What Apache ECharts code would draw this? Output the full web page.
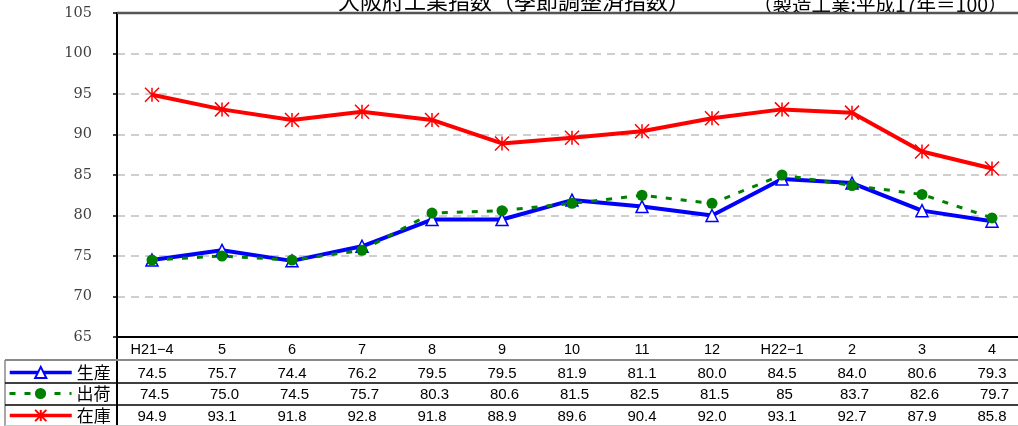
<!DOCTYPE html>
<html>
<head>
<meta charset="utf-8">
<script src="https://cdn.jsdelivr.net/npm/echarts@6/dist/echarts.min.js"></script>
<style>
  html, body { margin: 0; padding: 0; background: #fff; }
  #chart { width: 1018px; height: 426px; }
</style>
</head>
<body>
<div id="chart"></div>
<script>
// 月（表の見出し）
const months = ["H21−4", "5", "6", "7", "8", "9", "10", "11", "12", "H22−1", "2", "3", "4"];
// 各指数（表の表記そのまま）
const seisan = ["74.5", "75.7", "74.4", "76.2", "79.5", "79.5", "81.9", "81.1", "80.0", "84.5", "84.0", "80.6", "79.3"];
const shukka = ["74.5", "75.0", "74.5", "75.7", "80.3", "80.6", "81.5", "82.5", "81.5", "85", "83.7", "82.6", "79.7"];
const zaiko = ["94.9", "93.1", "91.8", "92.8", "91.8", "88.9", "89.6", "90.4", "92.0", "93.1", "92.7", "87.9", "85.8"];
const names = ["生産", "出荷", "在庫"];

const gridLeft = 117;
const gridTop = 13;
const gridBottomY = 337;
// 表の各行の中心
const rowY = [373, 394, 416];
const jpFont = "Noto Sans CJK JP";
const numFont = "Liberation Sans";
const asterisk = "path://M0,0L20,20M20,0L0,20M10,0L10,20";

let myChart = echarts.init(document.getElementById("chart"));

// 表の行（値）を下側のx軸として並べる
function rowAxis(values, offset, lineColor, lineWidth, margin, pad) {
  return {
    type: "category",
    data: months,
    position: "bottom",
    offset: offset,
    boundaryGap: true,
    axisLine: { show: true, lineStyle: { color: lineColor, width: lineWidth } },
    axisTick: { show: false },
    splitLine: { show: false },
    axisLabel: {
      interval: 0,
      margin: margin,
      fontSize: 15,
      fontFamily: numFont,
      color: "#000",
      padding: [0, 0, 0, pad],
      formatter: (v, i) => values[i]
    }
  };
}

let option = {
  animation: false,
  backgroundColor: "#fff",
  title: [
    {
      text: "大阪府工業指数（季節調整済指数）",
      left: 333,
      top: -15,
      textStyle: { fontFamily: jpFont, fontSize: 22, fontWeight: "normal", color: "#000" }
    },
    {
      text: "（製造工業:平成17年＝100）",
      left: 748,
      top: -10,
      textStyle: { fontFamily: jpFont, fontSize: 19.5, fontWeight: "normal", color: "#000" }
    }
  ],
  legend: names.map((name, i) => ({
    data: [name],
    left: 3,
    top: rowY[i] - 14,
    itemWidth: 62,
    itemHeight: 14,
    itemGap: 0,
    selectedMode: false,
    lineStyle: { width: i === 1 ? 3 : 3.5 },
    textStyle: { fontFamily: jpFont, fontSize: 17, color: "#000" }
  })),
  grid: {
    left: gridLeft,
    top: gridTop,
    width: 910,
    height: gridBottomY - gridTop,
    show: false,
    outerBoundsMode: "none"
  },
  xAxis: [
    {
      type: "category",
      data: months,
      position: "bottom",
      boundaryGap: true,
      axisLine: { show: true, lineStyle: { color: "#000", width: 2 } },
      axisTick: { show: false },
      splitLine: { show: false },
      axisLabel: {
        interval: 0,
        margin: 5,
        fontSize: 14.5,
        fontFamily: numFont,
        color: "#000"
      }
    },
    rowAxis(seisan, 23, "#888", 2, 6, 0),
    rowAxis(shukka, 46, "#000", 1.5, 4, 5),
    rowAxis(zaiko, 68, "#000", 1.5, 4, 0)
  ],
  yAxis: {
    type: "value",
    min: 65,
    max: 105,
    interval: 5,
    axisLine: { show: true, lineStyle: { color: "#000", width: 2 } },
    axisTick: { show: true, length: 4, lineStyle: { color: "#000", width: 1.5 } },
    axisLabel: {
      margin: 25,
      fontSize: 14.5,
      fontFamily: "DejaVu Serif",
      color: "#404040"
    },
    splitLine: {
      show: true,
      lineStyle: { color: "#c0c0c0", width: 1.5, type: [8, 6] }
    }
  },
  series: [
    {
      name: "在庫",
      type: "line",
      data: zaiko.map(Number),
      symbol: asterisk,
      symbolSize: 14,
      lineStyle: { color: "#ff0000", width: 4 },
      itemStyle: { color: "#ff0000", borderColor: "#ff0000", borderWidth: 1.5 },
      emphasis: { disabled: true }
    },
    {
      name: "生産",
      type: "line",
      data: seisan.map(Number),
      symbol: "triangle",
      symbolSize: 12,
      lineStyle: { color: "#0000ff", width: 4 },
      itemStyle: { color: "#fff", borderColor: "#0000ff", borderWidth: 1.5 },
      emphasis: { disabled: true }
    },
    {
      name: "出荷",
      type: "line",
      data: shukka.map(Number),
      symbol: "circle",
      symbolSize: 11,
      lineStyle: { color: "#008000", width: 3, type: [6, 9] },
      itemStyle: { color: "#008000", borderWidth: 0 },
      emphasis: { disabled: true }
    }
  ],
  graphic: [
    // 上の枠線
    { type: "line", z: 100, shape: { x1: gridLeft, y1: gridTop, x2: 1018, y2: gridTop }, style: { stroke: "#555", lineWidth: 2.5 } },
    // 表の左側の罫線
    { type: "line", shape: { x1: gridLeft, y1: gridBottomY, x2: gridLeft, y2: 426 }, style: { stroke: "#000", lineWidth: 2 } },
    { type: "line", shape: { x1: 5, y1: 360, x2: 5, y2: 426 }, style: { stroke: "#888", lineWidth: 1.5 } },
    { type: "line", shape: { x1: 5, y1: 360, x2: gridLeft, y2: 360 }, style: { stroke: "#888", lineWidth: 2 } },
    { type: "line", shape: { x1: 5, y1: 383, x2: gridLeft, y2: 383 }, style: { stroke: "#000", lineWidth: 1.5 } },
    { type: "line", shape: { x1: 5, y1: 405, x2: gridLeft, y2: 405 }, style: { stroke: "#000", lineWidth: 1.5 } },
    { type: "line", shape: { x1: 5, y1: 425.5, x2: 1018, y2: 425.5 }, style: { stroke: "#ccc", lineWidth: 1 } }
  ]
};

myChart.setOption(option, true);
window.addEventListener("resize", () => {
  myChart.resize();
});
</script>
</body>
</html>
